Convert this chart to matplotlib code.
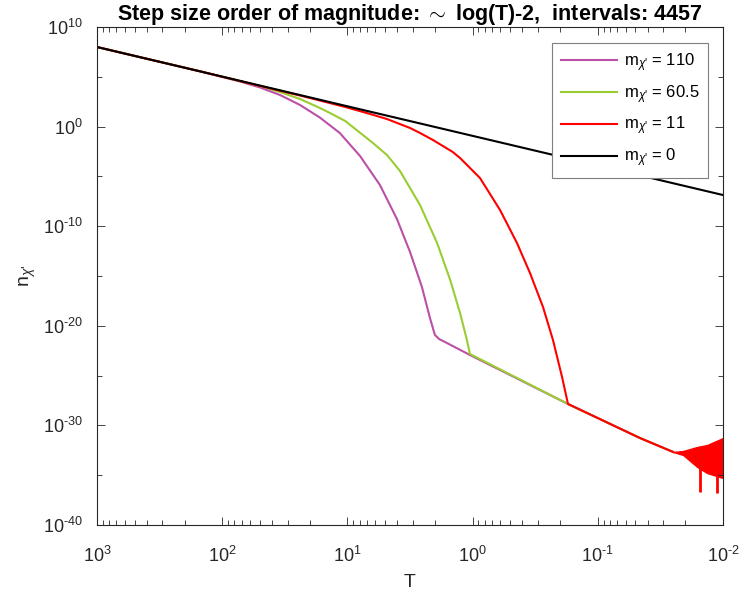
import numpy as np
import matplotlib
matplotlib.use("Agg")
import matplotlib.pyplot as plt
from matplotlib.ticker import FixedLocator, NullFormatter, LogLocator, FuncFormatter

plt.rcParams["font.family"] = ["Liberation Sans", "DejaVu Sans"]
plt.rcParams["mathtext.fontset"] = "custom"
plt.rcParams["mathtext.rm"] = "Liberation Sans"
plt.rcParams["mathtext.it"] = "Liberation Sans:italic"
plt.rcParams["axes.unicode_minus"] = False

# values (T, log10 n)
T_0 = [1000, 100, 10, 1, 0.1, 0.01]
logn_0 = [7.99, 5.02, 2.04, -0.93, -3.90, -6.87]

T_110 = [1000, 150.3, 72.1, 49.9, 34.5, 23.9, 16.6, 11.5, 7.93, 5.50, 4.02, 3.16, 2.54, 2.19,
         2.0, 1.85, 1.66, 1.05, 0.173, 0.046, 0.025]
logn_110 = [7.99, 5.55, 4.53, 3.93, 3.17, 2.17, 0.91, -0.64, -2.95, -5.86, -9.28, -12.59, -16.10,
            -19.22, -20.92, -21.33, -21.63, -22.93, -27.85, -31.27, -32.67]

T_605 = [1000, 150.3, 72.1, 49.9, 34.5, 23.9, 16.6, 13.8, 10.4, 6.25, 4.83, 3.80, 2.63, 1.92,
         1.51, 1.26, 1.11, 1.05, 0.173, 0.046, 0.025]
logn_605 = [7.99, 5.55, 4.58, 4.08, 3.47, 2.77, 1.87, 1.37, 0.56, -1.65, -2.85, -4.46, -7.87,
            -11.69, -15.40, -18.71, -21.43, -22.83, -27.85, -31.27, -32.67]

T_11 = [1000, 150.3, 49.9, 23.9, 16.6, 10.4, 6.59, 4.83, 3.16, 2.63, 2.07, 1.44, 1.26, 0.873,
        0.604, 0.442, 0.348, 0.274, 0.228, 0.193, 0.173, 0.046, 0.025]
logn_11 = [7.99, 5.55, 4.08, 3.12, 2.62, 1.97, 1.27, 0.76, -0.14, -0.64, -1.35, -2.55, -3.15,
           -5.16, -8.37, -11.69, -14.70, -18.11, -21.43, -25.14, -27.85, -31.27, -32.67]

# numerical-noise band of the m=11 curve at low T
T_band = [0.025, 0.0208, 0.0161, 0.0134, 0.01]
logn_band_hi = [-32.67, -32.57, -32.17, -31.97, -31.27]
logn_band_lo = [-32.67, -32.97, -34.16, -34.78, -35.28]
T_spike = [0.0153, 0.0112]
logn_spike_top = [-34.3, -35.1]
logn_spike_bot = [-36.69, -36.79]

fig = plt.figure(figsize=(7.43, 5.91), dpi=100)
ax = fig.add_axes([97 / 743, 1 - 525 / 591, 626 / 743, 498 / 591])

sub = r"$_{\chi\text{'}}$"
e = lambda v: 10.0 ** np.array(v)
ax.plot(T_110, e(logn_110), color="#bb50a8", lw=1.5, label="m" + sub + " = 110")
ax.plot(T_605, e(logn_605), color="#9acd32", lw=1.5, label="m" + sub + " = 60.5")
ax.plot(T_11, e(logn_11), color="#ff0000", lw=1.5, label="m" + sub + " = 11")
ax.fill_between(T_band, e(logn_band_lo), e(logn_band_hi), color="#ff0000", lw=1.0)
ax.vlines(T_spike, e(logn_spike_bot), e(logn_spike_top), color="#ff0000", lw=2.0)
ax.plot(T_0, e(logn_0), color="black", lw=1.5, label="m" + sub + " = 0")

ax.set_xscale("log"); ax.set_yscale("log")
ax.set_xlim(1e3, 1e-2); ax.set_ylim(1e-40, 1e10)
ax.yaxis.set_major_locator(FixedLocator([10.0 ** k for k in range(-40, 11, 10)]))
ax.yaxis.set_minor_locator(FixedLocator([10.0 ** k for k in range(-35, 10, 10)]))
ax.yaxis.set_minor_formatter(NullFormatter())
ax.xaxis.set_major_locator(LogLocator(base=10, numticks=10))
ax.xaxis.set_minor_locator(LogLocator(base=10, subs=np.arange(2, 10), numticks=20))
ax.xaxis.set_minor_formatter(NullFormatter())


def dec_fmt(v, pos):
    k = int(round(np.log10(v)))
    ex = r"\text{-}%d" % -k if k < 0 else "%d" % k
    return r"$\mathregular{10^{%s}}$" % ex


ax.xaxis.set_major_formatter(FuncFormatter(dec_fmt))
ax.yaxis.set_major_formatter(FuncFormatter(dec_fmt))

dark = "#262626"
for s in ax.spines.values():
    s.set_color(dark); s.set_linewidth(0.8)
ax.tick_params(which="both", direction="in", top=True, right=True, colors=dark,
               labelsize=13, width=0.6)
ax.tick_params(which="major", length=6)
ax.tick_params(axis="x", which="major", pad=15)
ax.tick_params(axis="y", which="major", pad=10)
ax.tick_params(which="minor", length=3.5)

ax.set_xlabel("T", fontsize=14, color=dark, labelpad=6)
ax.set_ylabel("n" + sub, fontsize=14, color=dark, labelpad=4)
ax.set_title(r"Step size order of magnitude: $\sim$ log(T)-2,  intervals: 4457",
             fontsize=15.5, fontweight="bold", pad=4)

leg = ax.legend(loc="upper right", bbox_to_anchor=(0.976, 0.968), borderaxespad=0,
                fontsize=12, handlelength=3.4, fancybox=False, framealpha=1,
                labelspacing=0.55, borderpad=0.5, handletextpad=0.4)
leg.get_frame().set_edgecolor("#7f7f7f")
leg.get_frame().set_linewidth(0.8)

fig.savefig("out.png", dpi=100)
